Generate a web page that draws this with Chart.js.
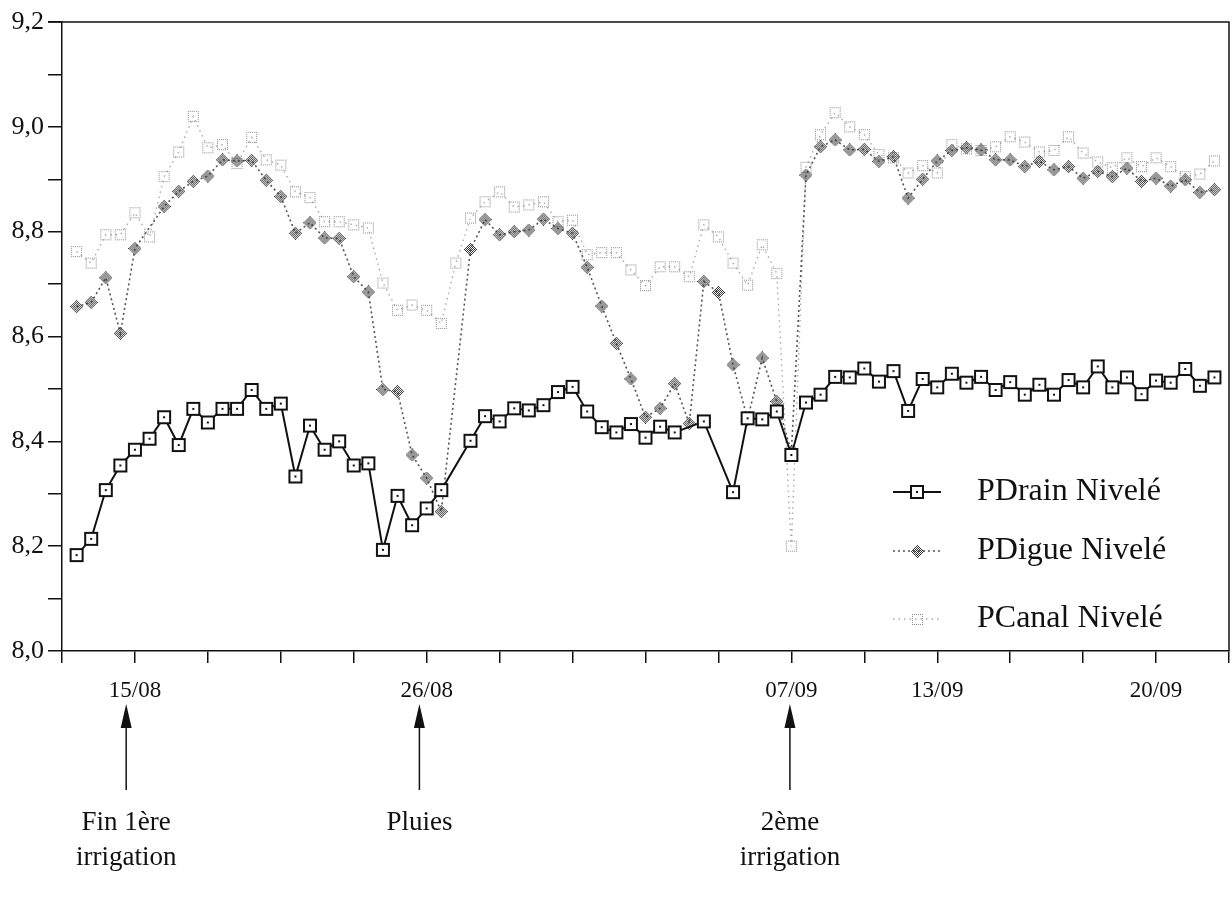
<!DOCTYPE html>
<html>
<head>
<meta charset="utf-8">
<script src="https://cdn.jsdelivr.net/npm/chart.js@4.4.1/dist/chart.umd.min.js"></script>
<style>
  body { margin: 0; background: #fff; overflow: hidden; }
  #wrap { width: 1232px; height: 898px; overflow: hidden; }
</style>
</head>
<body>
<div id="wrap"><canvas id="niveaux" width="1238" height="898"></canvas></div>
<script>
// measurement index 0..80 (5 readings per axis tick)
const dateTickIdx = [5, 25, 50, 60, 75];
const dateTickLabels = ["15/08", "26/08", "07/09", "13/09", "20/09"];

const seriesNames = ["PDrain Nivelé", "PDigue Nivelé", "PCanal Nivelé"];

const pDrain = [
  null, 8.183, 8.214, 8.307, 8.354, 8.384, 8.405, 8.446, 8.393, 8.462,
  8.436, 8.462, 8.462, 8.498, 8.462, 8.472, 8.333, 8.43, 8.384, 8.40,
  8.354, 8.358, 8.193, 8.296, 8.24, 8.272, 8.307, null, 8.401, 8.448,
  8.438, 8.463, 8.459, 8.469, 8.494, 8.504, 8.457, 8.427, 8.417, 8.433,
  8.407, 8.428, 8.417, null, 8.438, null, 8.303, 8.444, 8.442, 8.457,
  8.374, 8.474, 8.489, 8.523, 8.522, 8.539, 8.514, 8.534, 8.458, 8.519,
  8.503, 8.529, 8.512, 8.523, 8.498, 8.513, 8.489, 8.508, 8.489, 8.517,
  8.503, 8.543, 8.503, 8.522, 8.49, 8.516, 8.512, 8.538, 8.506, 8.522,
  null
];

const pDigue = [
  null, 8.657, 8.665, 8.712, 8.606, 8.768, null, 8.848, 8.877, 8.896,
  8.906, 8.937, 8.935, 8.936, 8.898, 8.867, 8.797, 8.817, 8.788, 8.787,
  8.714, 8.685, 8.499, 8.495, 8.374, 8.33, 8.266, null, 8.766, 8.823,
  8.794, 8.80, 8.803, 8.824, 8.806, 8.797, 8.732, 8.658, 8.587, 8.519,
  8.446, 8.463, 8.51, 8.434, 8.705, 8.684, 8.546, 8.442, 8.559, 8.476,
  8.38, 8.908, 8.962, 8.975, 8.956, 8.957, 8.934, 8.943, 8.864, 8.90,
  8.935, 8.955, 8.96, 8.956, 8.937, 8.937, 8.924, 8.934, 8.918, 8.924,
  8.902, 8.915, 8.905, 8.921, 8.896, 8.902, 8.887, 8.899, 8.875, 8.880,
  null
];

const pCanal = [
  null, 8.762, 8.74, 8.794, 8.794, 8.836, 8.79, 8.905, 8.952, 9.02,
  8.96, 8.966, 8.93, 8.98, 8.937, 8.927, 8.876, 8.865, 8.819, 8.819,
  8.813, 8.807, 8.702, 8.65, 8.66, 8.65, 8.625, 8.74, 8.826, 8.857,
  8.876, 8.847, 8.851, 8.857, 8.819, 8.822, 8.756, 8.76, 8.76, 8.727,
  8.697, 8.733, 8.733, 8.714, 8.813, 8.79, 8.74, 8.698, 8.775, 8.72,
  8.20, 8.923, 8.985, 9.027, 9.0, 8.985, 8.947, 8.941, 8.912, 8.926,
  8.912, 8.966, 8.958, 8.955, 8.962, 8.981, 8.971, 8.952, 8.955, 8.981,
  8.95, 8.933, 8.922, 8.941, 8.924, 8.941, 8.924, 8.905, 8.91, 8.935,
  null
];

// event arrows under the axis
const eventIdx = [4.4, 24.5, 49.9];
const eventLines = [["Fin 1ère", "irrigation"], ["Pluies"], ["2ème", "irrigation"]];

const serif = "'Liberation Serif', 'DejaVu Serif', serif";

function toXY(arr) {
  return arr.map((v, i) => ({ x: i, y: v }));
}

// marker images
function drainMarker() {
  const c = document.createElement("canvas");
  c.width = 16; c.height = 16;
  const g = c.getContext("2d");
  g.fillStyle = "#fff";
  g.fillRect(2, 2, 12, 12);
  g.strokeStyle = "#111";
  g.lineWidth = 2;
  g.strokeRect(2, 2, 12, 12);
  g.fillStyle = "#111";
  g.fillRect(7, 7, 2, 2);
  return c;
}

function digueMarker() {
  const c = document.createElement("canvas");
  c.width = 13; c.height = 13;
  const g = c.getContext("2d");
  g.fillStyle = "#333";
  for (let i = 0; i < 13; i++) {
    for (let j = 0; j < 13; j++) {
      if (Math.abs(i - 6) + Math.abs(j - 6) <= 6 && (i + j) % 2 === 0) g.fillRect(i, j, 1, 1);
    }
  }
  return c;
}

function canalMarker() {
  const c = document.createElement("canvas");
  c.width = 13; c.height = 13;
  const g = c.getContext("2d");
  g.fillStyle = "#8a8a8a";
  for (let i = 1; i <= 11; i += 2) {
    g.fillRect(i, 1, 1, 1);
    g.fillRect(i, 11, 1, 1);
    g.fillRect(1, i, 1, 1);
    g.fillRect(11, i, 1, 1);
  }
  return c;
}

const mDrain = drainMarker();
const mDigue = digueMarker();
const mCanal = canalMarker();

const extrasPlugin = {
  id: "extras",
  afterDraw(chart) {
    const ctx = chart.ctx;
    const a = chart.chartArea;
    const xs = chart.scales.x;
    ctx.save();

    // frame top + right
    ctx.strokeStyle = "#111";
    ctx.lineWidth = 1.5;
    ctx.beginPath();
    ctx.moveTo(a.left - 14, a.top);
    ctx.lineTo(a.right, a.top);
    ctx.lineTo(a.right, a.bottom);
    ctx.stroke();

    // legend
    const lx = 917, rows = [492, 551, 619];
    const tx = 977;
    ctx.font = "32px " + serif;
    ctx.fillStyle = "#111";
    ctx.textBaseline = "middle";
    ctx.textAlign = "left";

    ctx.strokeStyle = "#111";
    ctx.lineWidth = 1.8;
    ctx.setLineDash([]);
    ctx.beginPath();
    ctx.moveTo(lx - 24, rows[0]); ctx.lineTo(lx + 24, rows[0]);
    ctx.stroke();
    ctx.drawImage(mDrain, lx - 8, rows[0] - 8);

    ctx.strokeStyle = "#555";
    ctx.lineWidth = 1.6;
    ctx.setLineDash([2, 3]);
    ctx.beginPath();
    ctx.moveTo(lx - 24, rows[1]); ctx.lineTo(lx + 24, rows[1]);
    ctx.stroke();
    ctx.drawImage(mDigue, lx - 6, rows[1] - 6);

    ctx.strokeStyle = "#aaa";
    ctx.lineWidth = 1.4;
    ctx.setLineDash([1.5, 4]);
    ctx.beginPath();
    ctx.moveTo(lx - 24, rows[2]); ctx.lineTo(lx + 24, rows[2]);
    ctx.stroke();
    ctx.drawImage(mCanal, lx - 6, rows[2] - 6);
    ctx.setLineDash([]);

    seriesNames.forEach((n, i) => ctx.fillText(n, tx, rows[i]));

    // arrows and captions
    ctx.font = "27px " + serif;
    ctx.textAlign = "center";
    eventIdx.forEach((k, i) => {
      const x = xs.getPixelForValue(k);
      ctx.strokeStyle = "#111";
      ctx.lineWidth = 1.5;
      ctx.beginPath();
      ctx.moveTo(x, 790);
      ctx.lineTo(x, 720);
      ctx.stroke();
      ctx.fillStyle = "#111";
      ctx.beginPath();
      ctx.moveTo(x, 704);
      ctx.lineTo(x - 5.5, 728);
      ctx.lineTo(x + 5.5, 728);
      ctx.closePath();
      ctx.fill();
      eventLines[i].forEach((t, j) => ctx.fillText(t, x, 823 + j * 35));
    });
    ctx.restore();
  }
};

new Chart(document.getElementById("niveaux"), {
  type: "line",
  data: {
    datasets: [
      {
        label: seriesNames[0],
        data: toXY(pDrain),
        borderColor: "#111",
        borderWidth: 2,
        pointStyle: mDrain,
        pointRadius: 7,
        spanGaps: true,
        tension: 0
      },
      {
        label: seriesNames[1],
        data: toXY(pDigue),
        borderColor: "#555",
        borderWidth: 1.6,
        borderDash: [2, 3],
        pointStyle: mDigue,
        pointRadius: 6,
        spanGaps: true,
        tension: 0
      },
      {
        label: seriesNames[2],
        data: toXY(pCanal),
        borderColor: "#aaa",
        borderWidth: 1.4,
        borderDash: [1.5, 4],
        pointStyle: mCanal,
        pointRadius: 6,
        spanGaps: true,
        tension: 0
      }
    ]
  },
  options: {
    responsive: false,
    animation: false,
    layout: { padding: { top: 22, right: 4, left: 0, bottom: 0 } },
    plugins: { legend: { display: false }, tooltip: { enabled: false } },
    scales: {
      x: {
        type: "linear",
        min: 0,
        max: 80,
        afterFit(s) { s.height = 247; s.paddingRight = 0; s.paddingLeft = 0; },
        grid: { drawOnChartArea: false, tickLength: 12, color: "#111", lineWidth: 1.5 },
        border: { color: "#111", width: 1.5 },
        ticks: {
          stepSize: 5,
          autoSkip: false,
          maxRotation: 0,
          padding: 14,
          color: "#111",
          font: { family: serif, size: 23 },
          callback(v) {
            const p = dateTickIdx.indexOf(Math.round(v));
            return p >= 0 ? dateTickLabels[p] : "";
          }
        }
      },
      y: {
        min: 8.0,
        max: 9.2,
        afterFit(s) { s.width = 62; },
        grid: { drawOnChartArea: false, tickLength: 14, color: "#111", lineWidth: 1.5 },
        border: { color: "#111", width: 1.5 },
        ticks: {
          stepSize: 0.1,
          autoSkip: false,
          padding: 4,
          color: "#111",
          font: { family: serif, size: 26 },
          callback(v) {
            const t = Math.round(v * 10);
            return t % 2 === 0 ? (t / 10).toFixed(1).replace(".", ",") : "";
          }
        }
      }
    }
  },
  plugins: [extrasPlugin]
});
</script>
</body>
</html>
